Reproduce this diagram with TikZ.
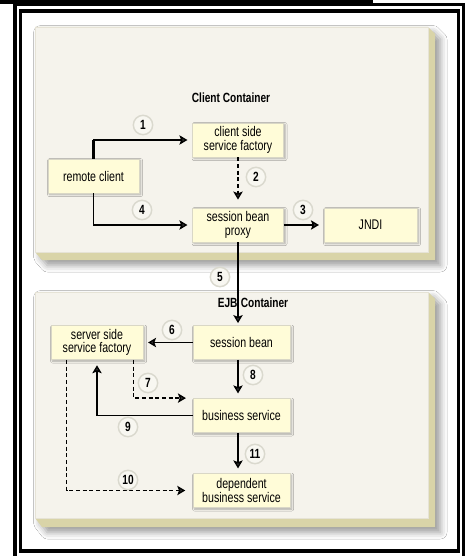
\documentclass[tikz,border=0pt]{standalone}
\usepackage{fontspec}
\setmainfont[FakeStretch=0.76]{Liberation Sans}
\usetikzlibrary{arrows.meta,shadows.blur,calc}

\definecolor{paneface}{HTML}{F5F3EC}
\definecolor{paneedge}{HTML}{E6E3D6}
\definecolor{panetan}{HTML}{D9D4A8}
\definecolor{boxfill}{HTML}{FFFCD8}
\definecolor{boxline}{HTML}{D9D7C6}
\definecolor{stepring}{HTML}{DAD9CE}
\definecolor{stepfill}{HTML}{F8F7F1}

\tikzset{
  comp/.style={draw=boxline, line width=0.6pt, fill=boxfill,
    minimum height=25.5pt, inner sep=1pt, align=center,
    font=\fontsize{10.5}{10}\selectfont,
    blur shadow={shadow xshift=1.2pt, shadow yshift=-1.2pt,
      shadow blur radius=1.5pt, shadow opacity=30}},
  stepmark/.style={circle, draw=stepring, line width=1.1pt, fill=stepfill,
    minimum size=14.5pt, inner sep=0pt,
    font=\bfseries\fontsize{10}{10}\selectfont},
  panetitle/.style={font=\bfseries\fontsize{10}{10}\selectfont},
  flow/.style={line width=1pt,
    -{Stealth[length=6pt,width=7pt,inset=1.3pt]}, shorten >=3.5pt},
  flowdash/.style={flow, dash pattern=on 3pt off 2pt},
  frameline/.style={line width=2.6pt}
}

\begin{document}
\begin{tikzpicture}[x=0.75pt,y=-0.75pt]
\useasboundingbox (0,0) rectangle (468,556);
\fill[white] (0,0) rectangle (468,556);

% outer double frame and top bar
\fill[black] (0,0) rectangle (373,4);
\draw[frameline] (15,556) -- (15,4.5) -- (463.5,4.5) -- (463.5,556);
\draw[frameline] (20.5,11) rectangle (458.5,551);

% client container slab
\fill[panetan, blur shadow={shadow xshift=4pt, shadow yshift=-4pt,
      shadow blur radius=5pt, shadow opacity=40}]
  (35,27) -- (428,27) -- (435,34) -- (435,260) -- (42,260) -- (35,252) -- cycle;
\filldraw[fill=paneface, draw=paneedge, line width=0.6pt] (35,27) rectangle (428,252);

% EJB container slab
\fill[panetan, blur shadow={shadow xshift=4pt, shadow yshift=-4pt,
      shadow blur radius=5pt, shadow opacity=40}]
  (35,292) -- (428,292) -- (435,299) -- (435,527) -- (42,527) -- (35,518) -- cycle;
\filldraw[fill=paneface, draw=paneedge, line width=0.6pt] (35,292) rectangle (428,518);

\node[panetitle] (cctitle) at (231,98) {Client Container};
\node[panetitle] (ejbtitle) at (253,303) {EJB\hspace{2.5pt}Container};

% components
\node[comp, minimum width=68.25pt] (rc)   at (93.5,176)  {remote client};
\node[comp, minimum width=68.25pt] (csf)  at (238,140)   {client side\\service factory};
\node[comp, minimum width=68.25pt] (sbp)  at (238,225)   {session bean\\proxy};
\node[comp, minimum width=69.75pt] (jndi) at (370.5,225) {JNDI};
\node[comp, minimum width=72.75pt] (sb)   at (241.5,342.5) {session bean};
\node[comp, minimum width=69pt]    (ssf)  at (97,342.5)  {server side\\service factory};
\node[comp, minimum width=72.75pt] (bs)   at (241.5,415.5) {business service};
\node[comp, minimum width=72.75pt] (dbs)  at (241.5,490.5) {dependent\\business service};

% connectors
\draw[line width=2pt] (rc.north) -- (rc.north |- csf.west);
\draw[flow] (rc.north) |- (csf.west);
\draw[flow] (rc.south) |- (sbp.west);
\draw[flowdash, shorten >=6pt] (csf.south) -- (sbp.north);
\draw[flow] (sbp.east) -- (jndi.west);
\draw[flow, shorten >=1.5pt] (sbp.south) -- (sbp.south |- sb.north);
\draw[flow] (sb.west) -- (ssf.east);
\draw[flow] (sb.south -| sbp.south) -- (bs.north -| sbp.south);
\coordinate (f7) at ($(ssf.south east)+(-10,0)$);
\draw[flowdash, shorten >=5pt] (f7) |- (bs.north west);
\draw[flow, shorten >=4pt] (bs.west) -| (ssf.south);
\coordinate (f10) at ($(ssf.south west)+(16,0)$);
\draw[flowdash, shorten >=5.5pt] (f10) |- (dbs.west);
\draw[flow] (bs.south -| sbp.south) -- (dbs.north -| sbp.south);

% step numbers
\node[stepmark] (s1)  at (143,125) {1};
\node[stepmark] (s2)  at (256,177) {2};
\node[stepmark] (s3)  at (303,210) {3};
\node[stepmark] (s4)  at (142,210) {4};
\node[stepmark] (s5)  at (220,277) {5};
\node[stepmark] (s6)  at (172,330) {6};
\node[stepmark] (s7)  at (148,383) {7};
\node[stepmark] (s8)  at (253,375) {8};
\node[stepmark] (s9)  at (128,427) {9};
\node[stepmark] (s10) at (128,480) {10};
\node[stepmark] (s11) at (255,454) {11};
\end{tikzpicture}
\end{document}
